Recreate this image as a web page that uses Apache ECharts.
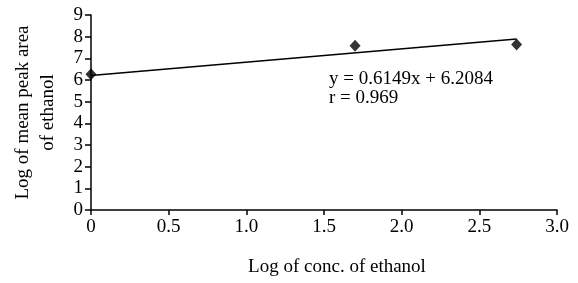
<!DOCTYPE html>
<html>
<head>
<meta charset="utf-8">
<script src="https://cdn.jsdelivr.net/npm/echarts@6/dist/echarts.min.js"></script>
<style>
  html, body { margin: 0; padding: 0; background: #fff; }
  #main { width: 578px; height: 283px; }
</style>
</head>
<body>
<div id="main"></div>
<script>
// 数据点
const xValues = [0, 1.70, 2.74];
const yValues = [6.27, 7.58, 7.64];
// 回归线端点 (y = 0.6149x + 6.2084)
const trendX = [0, 2.74];
const trendY = [6.21, 7.89];
const equationText = 'y = 0.6149x + 6.2084';
const rText = 'r = 0.969';

const font = '"Liberation Serif", "Times New Roman", serif';

var myChart = echarts.init(document.getElementById('main'));

const option = {
    animation: false,
    grid: { left: 91, right: 21, top: 15, bottom: 73, outerBoundsMode: 'none' },
    xAxis: {
        type: 'value',
        min: 0,
        max: 3,
        interval: 0.5,
        name: 'Log of conc. of ethanol',
        nameLocation: 'middle',
        nameGap: 48,
        nameTextStyle: { color: '#000', fontSize: 19, fontFamily: font, padding: [0, 0, 0, 26] },
        axisLine: { lineStyle: { color: '#000', width: 1.5 } },
        axisTick: { show: true, length: 5, lineStyle: { color: '#000', width: 1.5 } },
        axisLabel: {
            color: '#000', fontSize: 19, fontFamily: font, margin: 8,
            formatter: v => v === 0 ? '0' : v.toFixed(1)
        },
        splitLine: { show: false }
    },
    yAxis: {
        type: 'value',
        min: 0,
        max: 9,
        interval: 1,
        name: 'Log of mean peak area\nof ethanol',
        nameLocation: 'middle',
        nameGap: 30,
        nameRotate: 90,
        nameTextStyle: { color: '#000', fontSize: 19, fontFamily: font, lineHeight: 25 },
        axisLine: { show: true, lineStyle: { color: '#000', width: 1.5 } },
        axisTick: { show: true, length: 6, lineStyle: { color: '#000', width: 1.5 } },
        axisLabel: { color: '#000', fontSize: 19, fontFamily: font, margin: 8 },
        splitLine: { show: false }
    },
    series: [
        {
            type: 'line',
            data: trendX.map((x, i) => [x, trendY[i]]),
            symbol: 'none',
            lineStyle: { color: '#000', width: 1.5 },
            z: 2
        },
        {
            type: 'scatter',
            data: xValues.map((x, i) => [x, yValues[i]]),
            symbol: 'diamond',
            symbolSize: [11, 12],
            itemStyle: { color: '#000' },
            z: 3
        }
    ],
    graphic: [
        {
            type: 'text',
            left: 329,
            top: 70,
            style: {
                text: equationText + '\n' + rText,
                fill: '#000',
                font: '19px ' + font,
                lineHeight: 19
            }
        }
    ]
};

myChart.setOption(option);
window.addEventListener('resize', myChart.resize);
</script>
</body>
</html>
